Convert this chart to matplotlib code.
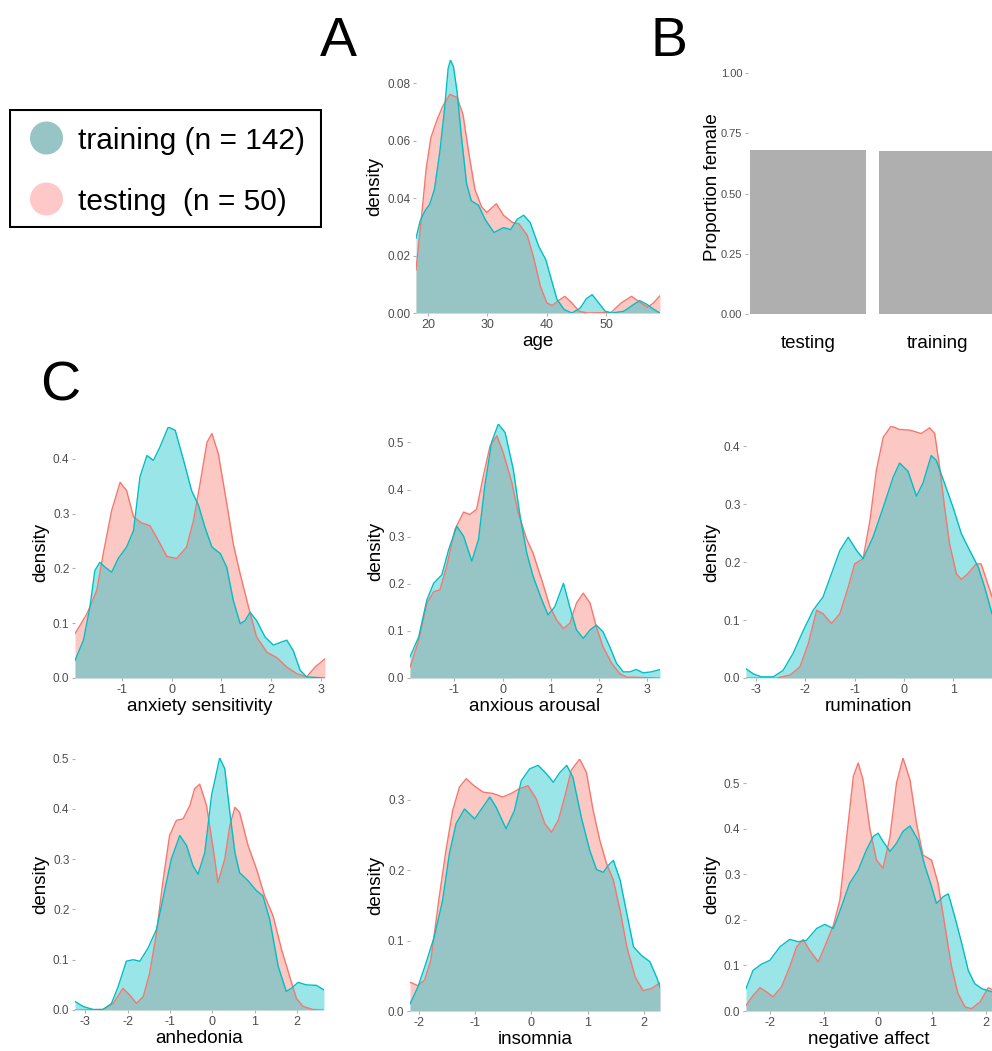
import matplotlib
matplotlib.use('Agg')
import matplotlib.pyplot as plt
from matplotlib.patches import Rectangle, Circle
from matplotlib.ticker import MultipleLocator, FormatStrFormatter

plt.rcParams['font.family'] = ['Liberation Sans', 'DejaVu Sans']
plt.rcParams['axes.unicode_minus'] = False

# ---- data ----
groups = ['training (n = 142)', 'testing  (n = 50)']
sex_groups = ['testing', 'training']
prop_female = [0.680, 0.677]

age_x_test = [18, 19.0, 19.7, 20.5, 21.5, 22.5, 23.7, 24.9, 25.9, 27.0, 27.9, 29.0, 29.9, 31.5, 32.7, 34.2, 35.3, 36.7,
              37.8, 38.9, 40.0, 40.9, 41.7, 43.0, 44.2, 45.4, 46.8, 50.8, 52.5, 54.2, 55.6, 56.9, 57.9, 59.0]
age_test = [0.015, 0.035, 0.050, 0.061, 0.067, 0.072, 0.076, 0.075, 0.069, 0.054, 0.043, 0.037, 0.035, 0.038, 0.034,
            0.0315, 0.031, 0.027, 0.019, 0.0093, 0.0035, 0.0026, 0.004, 0.0058, 0.0035, 0.0006, 0.0, 0.0002, 0.0035,
            0.0058, 0.0038, 0.002, 0.0035, 0.006]
age_x_train = [18, 18.7, 19.5, 20.3, 21.1, 22.0, 22.8, 23.4, 23.8, 24.3, 24.9, 25.6, 26.5, 27.3, 28.5, 29.6, 31.1, 32.7,
               33.9, 35.0, 36.1, 37.2, 38.6, 39.8, 40.9, 41.7, 42.9, 44.2, 45.6, 46.6, 47.6, 48.7, 49.8, 50.9, 52.9,
               54.6, 55.6, 56.8, 58.0, 59.0]
age_train = [0.026, 0.032, 0.0355, 0.0378, 0.043, 0.056, 0.071, 0.085, 0.088, 0.0856, 0.077, 0.062, 0.045, 0.039,
             0.0375, 0.0326, 0.028, 0.0297, 0.029, 0.0326, 0.034, 0.0314, 0.0233, 0.0186, 0.0105, 0.0047, 0.0012, 0.0,
             0.0017, 0.0049, 0.0064, 0.0035, 0.0006, 0.0, 0.0006, 0.003, 0.0043, 0.003, 0.0012, 0.0]

as_x_test = [-1.95, -1.71, -1.51, -1.38, -1.21, -1.04, -0.91, -0.77, -0.61, -0.44, -0.27, -0.10, 0.10, 0.30, 0.44, 0.57,
             0.71, 0.81, 0.94, 1.11, 1.24, 1.38, 1.55, 1.71, 1.92, 2.12, 2.32, 2.52, 2.72, 2.89, 3.09]
as_test = [0.081, 0.117, 0.16, 0.227, 0.306, 0.357, 0.342, 0.294, 0.283, 0.278, 0.251, 0.222, 0.218, 0.239, 0.288,
           0.354, 0.430, 0.446, 0.409, 0.318, 0.245, 0.19, 0.129, 0.075, 0.047, 0.037, 0.02, 0.008, 0.002, 0.02, 0.035]
as_x_train = [-1.95, -1.78, -1.65, -1.55, -1.45, -1.34, -1.21, -1.08, -0.91, -0.77, -0.64, -0.50, -0.37, -0.24, -0.07,
              0.07, 0.24, 0.40, 0.54, 0.67, 0.81, 0.98, 1.11, 1.24, 1.38, 1.48, 1.58, 1.71, 1.88, 2.05, 2.22, 2.32,
              2.45, 2.59, 2.72, 3.09]
as_train = [0.032, 0.069, 0.129, 0.196, 0.211, 0.202, 0.193, 0.218, 0.239, 0.269, 0.367, 0.406, 0.397, 0.421, 0.458,
            0.452, 0.397, 0.342, 0.315, 0.275, 0.239, 0.227, 0.202, 0.142, 0.099, 0.105, 0.120, 0.105, 0.075, 0.060,
            0.066, 0.069, 0.050, 0.014, 0.002, 0.0]

aa_x_test = [-1.92, -1.74, -1.57, -1.43, -1.30, -1.16, -0.99, -0.81, -0.68, -0.54, -0.40, -0.26, -0.12, 0.01, 0.19,
             0.32, 0.50, 0.63, 0.81, 0.98, 1.12, 1.26, 1.39, 1.53, 1.67, 1.81, 1.94, 2.08, 2.26, 2.43, 2.57, 3.26]
aa_test = [0.023, 0.080, 0.159, 0.183, 0.187, 0.237, 0.315, 0.352, 0.347, 0.358, 0.429, 0.493, 0.514, 0.479, 0.415,
           0.351, 0.294, 0.265, 0.208, 0.151, 0.123, 0.105, 0.116, 0.159, 0.180, 0.159, 0.109, 0.066, 0.031, 0.009,
           0.002, 0.0]
aa_x_train = [-1.92, -1.74, -1.57, -1.43, -1.26, -1.12, -0.95, -0.81, -0.64, -0.50, -0.37, -0.23, -0.09, 0.05, 0.22,
              0.36, 0.50, 0.63, 0.81, 0.94, 1.08, 1.26, 1.39, 1.53, 1.67, 1.81, 1.94, 2.08, 2.22, 2.36, 2.50, 2.63,
              2.77, 2.91, 3.08, 3.26]
aa_train = [0.045, 0.087, 0.166, 0.201, 0.219, 0.272, 0.322, 0.301, 0.248, 0.294, 0.408, 0.500, 0.539, 0.521, 0.443,
            0.344, 0.265, 0.216, 0.166, 0.134, 0.151, 0.201, 0.151, 0.102, 0.084, 0.102, 0.112, 0.098, 0.066, 0.031,
            0.013, 0.013, 0.018, 0.011, 0.013, 0.018]

ru_x_test = [-3.2, -2.58, -2.31, -2.11, -1.94, -1.77, -1.64, -1.47, -1.30, -1.13, -1.00, -0.83, -0.69, -0.56, -0.42,
             -0.26, -0.09, 0.11, 0.35, 0.52, 0.62, 0.72, 0.82, 0.92, 1.06, 1.16, 1.29, 1.46, 1.56, 1.67, 1.78]
ru_test = [0.0, 0.0, 0.005, 0.019, 0.059, 0.117, 0.111, 0.094, 0.111, 0.157, 0.197, 0.206, 0.272, 0.359, 0.416,
           0.435, 0.429, 0.428, 0.422, 0.432, 0.422, 0.364, 0.295, 0.232, 0.180, 0.170, 0.180, 0.197, 0.197, 0.169,
           0.140]
ru_x_train = [-3.2, -3.05, -2.89, -2.65, -2.45, -2.25, -2.04, -1.84, -1.64, -1.47, -1.30, -1.13, -0.96, -0.83, -0.63,
              -0.42, -0.22, -0.09, 0.08, 0.25, 0.38, 0.55, 0.65, 0.82, 0.99, 1.16, 1.33, 1.50, 1.63, 1.78]
ru_train = [0.016, 0.007, 0.002, 0.002, 0.013, 0.042, 0.082, 0.117, 0.140, 0.180, 0.220, 0.243, 0.220, 0.206, 0.243,
            0.295, 0.347, 0.371, 0.357, 0.314, 0.336, 0.384, 0.376, 0.336, 0.295, 0.249, 0.220, 0.192, 0.157, 0.111]

an_x_test = [-3.24, -2.58, -2.34, -2.11, -1.95, -1.79, -1.63, -1.48, -1.32, -1.16, -1.01, -0.85, -0.69, -0.53, -0.42,
             -0.30, -0.14, 0.02, 0.13, 0.29, 0.41, 0.53, 0.64, 0.84, 1.04, 1.23, 1.43, 1.63, 1.82, 1.98, 2.14, 2.37,
             2.63]
an_test = [0.0, 0.001, 0.013, 0.043, 0.030, 0.013, 0.027, 0.073, 0.153, 0.260, 0.347, 0.377, 0.380, 0.407, 0.440,
           0.449, 0.407, 0.320, 0.253, 0.300, 0.367, 0.403, 0.393, 0.327, 0.280, 0.227, 0.187, 0.120, 0.067, 0.023,
           0.007, 0.001, 0.0]
an_x_train = [-3.24, -3.05, -2.81, -2.58, -2.38, -2.22, -2.03, -1.87, -1.71, -1.52, -1.32, -1.12, -0.97, -0.77, -0.61,
              -0.46, -0.34, -0.18, -0.02, 0.17, 0.29, 0.41, 0.53, 0.64, 0.84, 1.04, 1.19, 1.35, 1.55, 1.74, 1.86, 2.02,
              2.21, 2.45, 2.63]
an_train = [0.017, 0.007, 0.001, 0.001, 0.013, 0.047, 0.097, 0.100, 0.097, 0.123, 0.160, 0.240, 0.300, 0.347, 0.327,
            0.287, 0.270, 0.313, 0.427, 0.501, 0.480, 0.393, 0.313, 0.273, 0.257, 0.237, 0.227, 0.180, 0.087, 0.037,
            0.043, 0.055, 0.050, 0.049, 0.040]

in_x_test = [-2.16, -2.02, -1.90, -1.79, -1.64, -1.52, -1.40, -1.28, -1.16, -1.02, -0.86, -0.68, -0.51, -0.36, -0.21,
             -0.06, 0.09, 0.24, 0.36, 0.48, 0.60, 0.71, 0.86, 0.98, 1.10, 1.22, 1.34, 1.46, 1.58, 1.70, 1.85, 1.99,
             2.14, 2.29]
in_test = [0.041, 0.036, 0.044, 0.072, 0.162, 0.228, 0.285, 0.318, 0.330, 0.320, 0.311, 0.309, 0.304, 0.309, 0.316,
           0.320, 0.301, 0.266, 0.254, 0.271, 0.306, 0.342, 0.358, 0.339, 0.285, 0.242, 0.209, 0.186, 0.143, 0.091,
           0.048, 0.029, 0.032, 0.040]
in_x_train = [-2.16, -2.02, -1.88, -1.73, -1.58, -1.46, -1.34, -1.19, -1.01, -0.86, -0.74, -0.63, -0.45, -0.30, -0.18,
              -0.03, 0.12, 0.27, 0.39, 0.51, 0.63, 0.74, 0.89, 1.04, 1.16, 1.28, 1.37, 1.46, 1.58, 1.70, 1.82, 1.96,
              2.11, 2.23, 2.29]
in_train = [0.010, 0.034, 0.067, 0.105, 0.157, 0.223, 0.266, 0.287, 0.273, 0.290, 0.304, 0.290, 0.259, 0.285, 0.327,
            0.344, 0.349, 0.337, 0.325, 0.339, 0.349, 0.332, 0.275, 0.228, 0.201, 0.197, 0.207, 0.214, 0.186, 0.138,
            0.091, 0.079, 0.070, 0.048, 0.034]

na_x_test = [-2.45, -2.32, -2.19, -2.07, -1.95, -1.79, -1.64, -1.51, -1.39, -1.27, -1.11, -0.99, -0.83, -0.71, -0.59,
             -0.46, -0.37, -0.28, -0.15, -0.03, 0.09, 0.22, 0.34, 0.46, 0.59, 0.71, 0.83, 0.99, 1.11, 1.24, 1.36,
             1.48, 1.61, 1.73, 1.89, 2.04, 2.11]
na_test = [0.012, 0.034, 0.051, 0.042, 0.031, 0.053, 0.097, 0.141, 0.157, 0.133, 0.108, 0.141, 0.188, 0.243, 0.375,
           0.515, 0.544, 0.507, 0.397, 0.331, 0.313, 0.383, 0.500, 0.555, 0.507, 0.412, 0.342, 0.331, 0.280, 0.185,
           0.097, 0.038, 0.009, 0.005, 0.020, 0.051, 0.047]
na_x_train = [-2.45, -2.32, -2.16, -2.01, -1.82, -1.64, -1.48, -1.33, -1.14, -0.99, -0.83, -0.68, -0.53, -0.37, -0.22,
              -0.09, 0.00, 0.09, 0.22, 0.34, 0.46, 0.59, 0.74, 0.87, 0.99, 1.08, 1.21, 1.30, 1.42, 1.55, 1.67, 1.79,
              1.92, 2.11]
na_train = [0.049, 0.089, 0.103, 0.111, 0.141, 0.157, 0.152, 0.155, 0.181, 0.190, 0.181, 0.229, 0.280, 0.309, 0.353,
            0.383, 0.390, 0.372, 0.350, 0.368, 0.394, 0.406, 0.375, 0.317, 0.273, 0.236, 0.251, 0.257, 0.207, 0.148,
            0.089, 0.060, 0.049, 0.042]

W, H = 992, 1051
fig = plt.figure(figsize=(W / 100, H / 100), dpi=100)
RED = '#F8766D'
TEAL = '#00BFC4'
TICKCOL = '#4D4D4D'


def px_axes(l, t, r, b):
    return fig.add_axes([l / W, 1 - b / H, (r - l) / W, (b - t) / H])


def style(ax, yfmt, ystep):
    for s in ax.spines.values():
        s.set_visible(False)
    ax.tick_params(axis='both', colors='#B0B0B0', length=2.5, width=0.8, pad=1.5, labelcolor=TICKCOL)
    ax.tick_params(axis='y', labelsize=8.5)
    ax.tick_params(axis='x', labelsize=9)
    ax.yaxis.set_major_locator(MultipleLocator(ystep))
    ax.yaxis.set_major_formatter(FormatStrFormatter(yfmt))


def dens(box, xt, yt, xr, yr, xlabel, yfmt='%.1f', ystep=0.1, xstep=1):
    ax = px_axes(*box)
    ax.fill_between(xt, yt, color=RED, alpha=0.4, lw=0)
    ax.plot(xt, yt, color=RED, lw=1)
    ax.fill_between(xr, yr, color=TEAL, alpha=0.4, lw=0)
    ax.plot(xr, yr, color=TEAL, lw=1)
    ax.set_xlim(min(xt[0], xr[0]), max(xt[-1], xr[-1]))
    ax.set_ylim(0, max(max(yt), max(yr)))
    ax.xaxis.set_major_locator(MultipleLocator(xstep))
    style(ax, yfmt, ystep)
    ax.set_xlabel(xlabel, fontsize=13.5, labelpad=1.5)
    ax.set_ylabel('density', fontsize=13.5, labelpad=3)
    return ax


# A: age
dens((416, 60, 660, 313), age_x_test, age_test, age_x_train, age_train, 'age', '%.2f', 0.02, 10)

# B: proportion female
axb = px_axes(748, 61, 992, 314)
axb.bar(range(len(sex_groups)), prop_female, width=0.9, color='#AFAFAF')
axb.set_xticks(range(len(sex_groups)))
axb.set_xticklabels(sex_groups)
axb.set_xlim(-0.465, 1.426)
axb.set_ylim(0, 1.05)
style(axb, '%.2f', 0.25)
axb.tick_params(axis='y', labelsize=8)
axb.tick_params(axis='x', length=0, labelsize=13.5, labelcolor='black', pad=15)
axb.set_ylabel('Proportion female', fontsize=13.5, labelpad=0)

# C: symptom dimensions
dens((75, 427, 325, 678), as_x_test, as_test, as_x_train, as_train, 'anxiety sensitivity')
dens((410, 424, 660, 678), aa_x_test, aa_test, aa_x_train, aa_train, 'anxious arousal')
dens((746, 426, 992, 678), ru_x_test, ru_test, ru_x_train, ru_train, 'rumination')
dens((75, 758, 324, 1010), an_x_test, an_test, an_x_train, an_train, 'anhedonia')
dens((410, 759, 660, 1011), in_x_test, in_test, in_x_train, in_train, 'insomnia')
dens((746, 758, 992, 1011), na_x_test, na_test, na_x_train, na_train, 'negative affect')

# legend box
axl = px_axes(9, 109, 322, 228)
axl.set_xlim(0, 313)
axl.set_ylim(119, 0)
axl.axis('off')
axl.add_patch(Rectangle((0.8, 0.8), 311.4, 117.4, fill=False, ec='black', lw=1.5))
axl.add_patch(Circle((37.5, 29), 16.5, color='#97C4C4', lw=0))
axl.add_patch(Circle((37.5, 90), 16.5, color='#FFC8C8', lw=0))
axl.text(69, 40, groups[0], fontsize=21.5, va='baseline')
axl.text(69, 101, groups[1], fontsize=21.5, va='baseline')

# panel letters
fig.text(338 / W, 1 - 42 / H, 'A', fontsize=40, ha='center', va='center')
fig.text(669 / W, 1 - 42 / H, 'B', fontsize=40, ha='center', va='center')
fig.text(60 / W, 1 - 387 / H, 'C', fontsize=40, ha='center', va='center')

fig.savefig('out.png', dpi=100)
